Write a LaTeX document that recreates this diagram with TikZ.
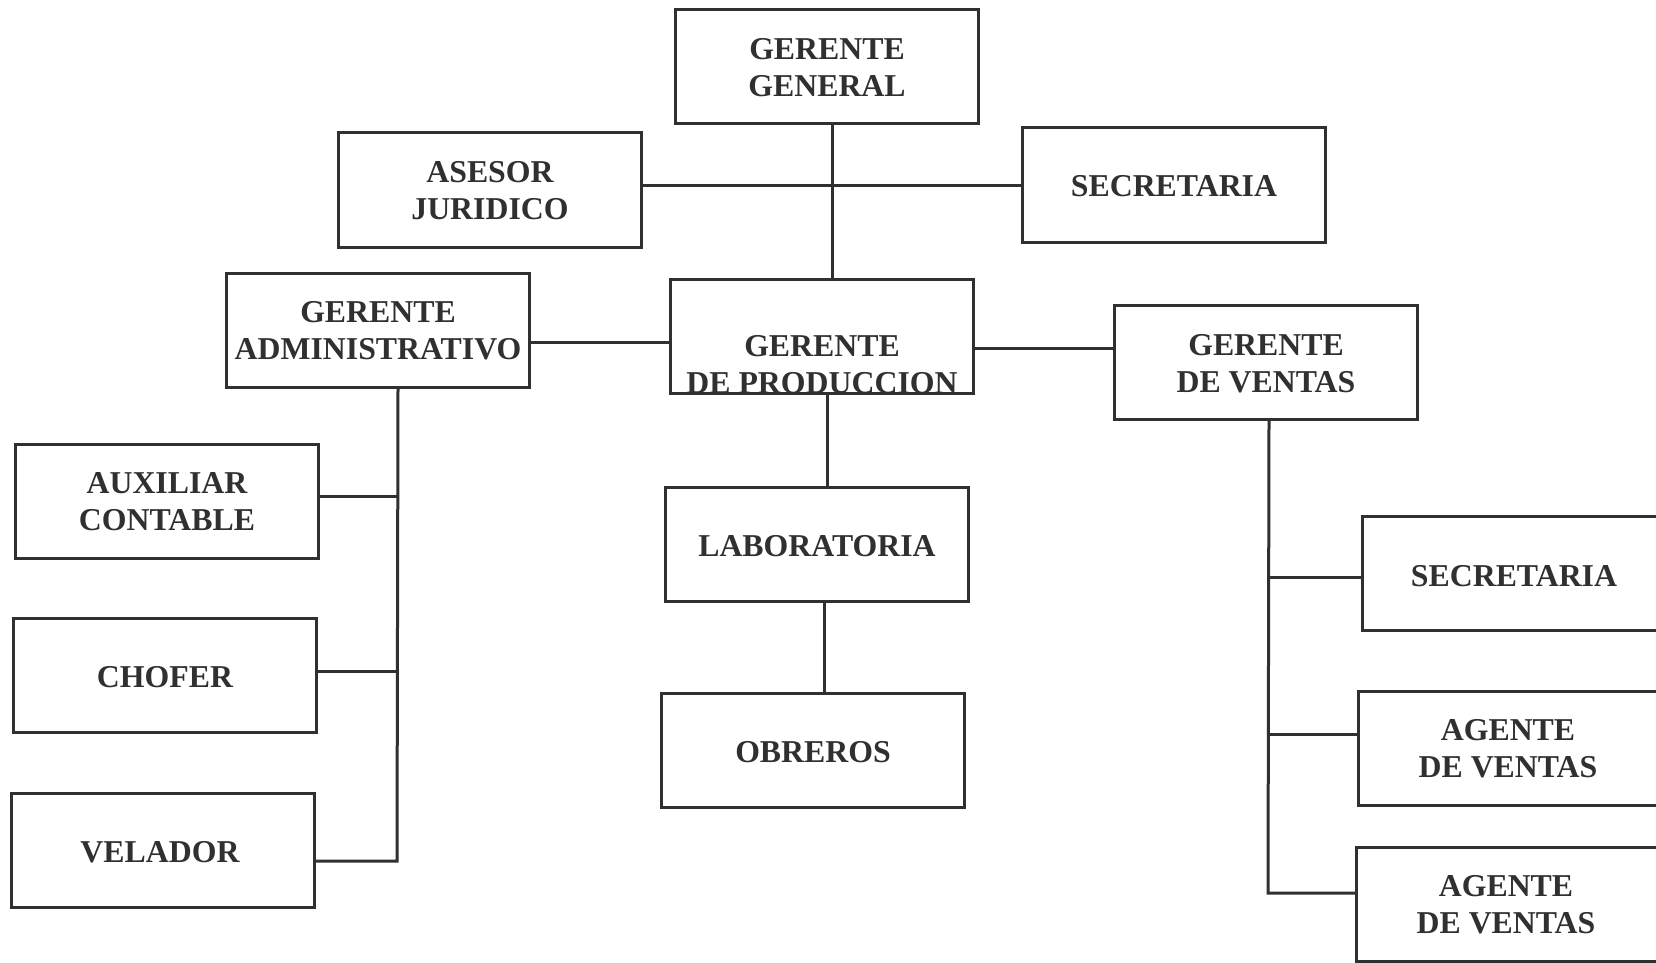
\documentclass[tikz,border=0pt]{standalone}
\usepackage{fontspec}
\setmainfont{Liberation Serif}
\definecolor{ink}{HTML}{303030}
\tikzset{
  orgbox/.style={draw=ink, line width=3pt, minimum width=303pt, minimum height=114pt, inner sep=0pt},
  orgtxt/.style={text=ink, align=center, font=\bfseries\fontsize{31.8}{37}\selectfont, inner sep=0pt},
  conn/.style={draw=ink, line width=3pt}
}
\begin{document}
\begin{tikzpicture}[x=1pt,y=-1pt]
\clip (0,0) rectangle (1656,963);
\fill[white] (0,0) rectangle (1656,963);
% boxes
\node[orgbox] (GG) at (827,67) {};
\node[orgtxt] (GGt) at (827,68) {GERENTE\\GENERAL};
\node[orgbox] (ASE) at (490,190) {};
\node[orgtxt] (ASEt) at (490,191) {ASESOR\\JURIDICO};
\node[orgbox] (SEC1) at (1174,185) {};
\node[orgtxt] (SEC1t) at (1174,186) {SECRETARIA};
\node[orgbox] (GA) at (378,330) {};
\node[orgtxt] (GAt) at (378,331) {GERENTE\\ADMINISTRATIVO};
\node[orgbox] (GP) at (822,336) {};
\node[orgtxt] (GPt) at (822,365) {GERENTE\\DE PRODUCCION};
\node[orgbox] (GV) at (1266,362) {};
\node[orgtxt] (GVt) at (1266,364) {GERENTE\\DE VENTAS};
\node[orgbox] (AUX) at (167,501) {};
\node[orgtxt] (AUXt) at (167,502) {AUXILIAR\\CONTABLE};
\node[orgbox] (CHO) at (165,675) {};
\node[orgtxt] (CHOt) at (165,677) {CHOFER};
\node[orgbox] (VEL) at (163,850) {};
\node[orgtxt] (VELt) at (160,852) {VELADOR};
\node[orgbox] (LAB) at (817,544) {};
\node[orgtxt] (LABt) at (817,546) {LABORATORIA};
\node[orgbox] (OBR) at (813,750) {};
\node[orgtxt] (OBRt) at (813,752) {OBREROS};
\node[orgbox] (SEC2) at (1514,573) {};
\node[orgtxt] (SEC2t) at (1514,576) {SECRETARIA};
\node[orgbox] (AG1) at (1510,748) {};
\node[orgtxt] (AG1t) at (1508,749) {AGENTE\\DE VENTAS};
\node[orgbox] (AG2) at (1508,904) {};
\node[orgtxt] (AG2t) at (1506,905) {AGENTE\\DE VENTAS};
% connectors
\draw[conn] ([xshift=5pt]GG.south) -- ([xshift=10pt]GP.north);
\draw[conn] (ASE.east |- SEC1.west) -- (SEC1.west);
\draw[conn] ([yshift=-12pt]GA.east) -- ([yshift=-6pt]GP.west);
\draw[conn] ([yshift=-12pt]GP.east) -- ([yshift=14pt]GV.west);
\draw[conn] ([xshift=5pt]GP.south) -- ([xshift=10pt]LAB.north);
\draw[conn] ([xshift=7pt]LAB.south) -- ([xshift=11pt]OBR.north);
% administrative branch
\coordinate (abot) at (397,861);
\draw[conn] ([xshift=20pt]GA.south) -- (abot) -- ([yshift=-11pt]VEL.east);
\draw[conn] ([yshift=5pt]AUX.east) -- ([yshift=5pt]AUX.east -| abot);
\draw[conn] ([yshift=4pt]CHO.east) -- ([yshift=4pt]CHO.east -| abot);
% sales branch
\coordinate (vbot) at (1268,893);
\draw[conn] ([xshift=3pt]GV.south) -- (vbot) -- ([yshift=11pt]AG2.west);
\draw[conn] ([yshift=-4pt]SEC2.west) -- ([yshift=-4pt]SEC2.west -| vbot);
\draw[conn] ([yshift=14pt]AG1.west) -- ([yshift=14pt]AG1.west -| vbot);
\end{tikzpicture}
\end{document}
